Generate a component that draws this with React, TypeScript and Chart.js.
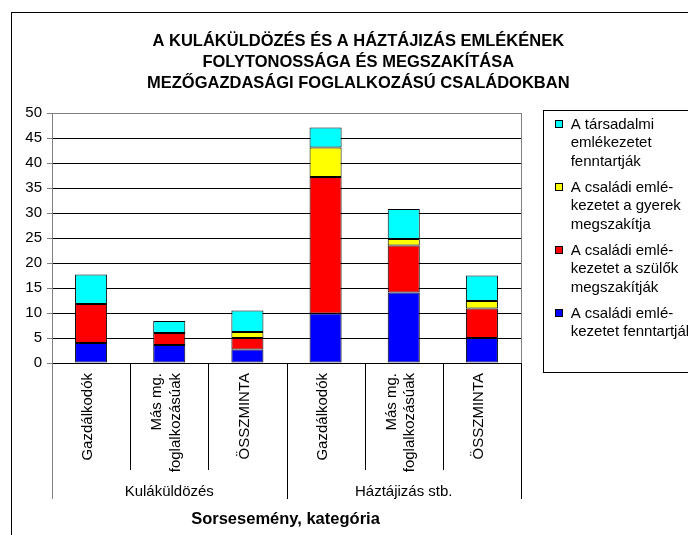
import React, { useEffect, useRef } from "react";
import { Chart, registerables } from "chart.js";

Chart.register(...registerables);

const TITLE_LINES = [
  "A KULÁKÜLDÖZÉS ÉS A HÁZTÁJIZÁS EMLÉKÉNEK",
  "FOLYTONOSSÁGA ÉS MEGSZAKÍTÁSA",
  "MEZŐGAZDASÁGI FOGLALKOZÁSÚ CSALÁDOKBAN",
];
const CATEGORIES: string[][] = [
  ["Gazdálkodók"],
  ["Más mg.", "foglalkozásúak"],
  ["ÖSSZMINTA"],
  ["Gazdálkodók"],
  ["Más mg.", "foglalkozásúak"],
  ["ÖSSZMINTA"],
];
const GROUPS = ["Kuláküldözés", "Háztájizás stb."];
const GROUP_SIZE = 3;
const X_TITLE = "Sorsesemény, kategória";

const SERIES_NAMES: string[][] = [
  ["A családi emlé-", "kezetet fenntartják"],
  ["A családi emlé-", "kezetet a szülők", "megszakítják"],
  ["A családi emlé-", "kezetet a gyerek", "megszakítja"],
  ["A társadalmi", "emlékezetet", "fenntartják"],
];
const SERIES_COLORS = ["#0000FF", "#FF0000", "#FFFF00", "#00FFFF"];

const fenntartjak = [4.0, 3.6, 2.7, 9.9, 14.1, 5.0];
const szulokMegszakitjak = [7.8, 2.4, 2.3, 27.3, 9.4, 5.9];
const gyerekMegszakitja = [0, 0, 1.2, 5.9, 1.3, 1.5];
const tarsadalmi = [5.9, 2.4, 4.3, 4.0, 6.0, 5.1];
const SERIES_VALUES = [fenntartjak, szulokMegszakitjak, gyerekMegszakitja, tarsadalmi];

const Y_MIN = 0;
const Y_MAX = 50;
const Y_STEP = 5;

const FONT = "'Liberation Sans', Arial, sans-serif";

const decorPlugin = {
  id: "decor",
  afterDraw(chart: any) {
    const ctx: CanvasRenderingContext2D = chart.ctx;
    const area = chart.chartArea;
    const xs = chart.scales.x;
    ctx.save();

    // outer frame (cut by page edges)
    ctx.strokeStyle = "#000";
    ctx.lineWidth = 1;
    ctx.strokeRect(3.5, 4.5, 800, 700);

    // title
    ctx.fillStyle = "#000";
    ctx.font = `bold 16.5px ${FONT}`;
    ctx.textAlign = "center";
    ctx.textBaseline = "alphabetic";
    const tBase = [37.7, 59, 80.3];
    TITLE_LINES.forEach((t, i) => ctx.fillText(t, 350.3, tBase[i]));

    // plot right border
    ctx.strokeStyle = "#808080";
    ctx.beginPath();
    ctx.moveTo(Math.round(area.right) + 0.5, area.top);
    ctx.lineTo(Math.round(area.right) + 0.5, area.bottom);
    ctx.stroke();

    // category separators
    const n = CATEGORIES.length;
    const step = (xs.getPixelForValue(1) - xs.getPixelForValue(0));
    for (let k = 0; k <= n; k++) {
      const x = Math.round(xs.getPixelForValue(0) - step / 2 + step * k) + 0.5;
      const isGroup = k % GROUP_SIZE === 0;
      ctx.strokeStyle = k === 0 ? "#808080" : "#000";
      ctx.beginPath();
      ctx.moveTo(x, area.bottom);
      ctx.lineTo(x, isGroup ? area.bottom + 136 : area.bottom + 107);
      ctx.stroke();
    }

    // category labels (rotated)
    ctx.fillStyle = "#000";
    ctx.font = `15px ${FONT}`;
    ctx.textAlign = "right";
    ctx.textBaseline = "middle";
    const lh = 18.3;
    CATEGORIES.forEach((lines, i) => {
      const cx = xs.getPixelForValue(i) - 3;
      lines.forEach((line, j) => {
        const off = (j - (lines.length - 1) / 2) * lh;
        ctx.save();
        ctx.translate(cx + off, area.bottom + 10);
        ctx.rotate(-Math.PI / 2);
        ctx.fillText(line, 0, 0);
        ctx.restore();
      });
    });

    // group labels
    ctx.textAlign = "center";
    GROUPS.forEach((g, gi) => {
      const a = xs.getPixelForValue(gi * GROUP_SIZE);
      const b = xs.getPixelForValue(gi * GROUP_SIZE + GROUP_SIZE - 1);
      ctx.fillText(g, (a + b) / 2, area.bottom + 129);
    });

    // axis title
    ctx.font = `bold 16.5px ${FONT}`;
    ctx.fillText(X_TITLE, (area.left + area.right) / 2 - 1, area.bottom + 156);

    // legend
    const lx = 535.5;
    const ly = 102.5;
    ctx.strokeStyle = "#000";
    ctx.strokeRect(lx, ly, 300, 262);
    ctx.font = `15px ${FONT}`;
    ctx.textAlign = "left";
    ctx.textBaseline = "middle";
    const order = [3, 2, 1, 0];
    order.forEach((si, idx) => {
      const y0 = 117 + idx * 63;
      ctx.fillStyle = SERIES_COLORS[si];
      ctx.fillRect(547.5, y0 - 4, 7, 7);
      ctx.strokeStyle = "#000";
      ctx.strokeRect(547.5, y0 - 4.5, 7, 7);
      ctx.fillStyle = "#000";
      SERIES_NAMES[si].forEach((line, j) => {
        ctx.fillText(line, 562.7, y0 + j * lh);
      });
    });

    ctx.restore();
  },
};

export default function App() {
  const ref = useRef<HTMLCanvasElement | null>(null);
  useEffect(() => {
    if (!ref.current) return;
    const chart = new Chart(ref.current, {
      type: "bar",
      data: {
        labels: CATEGORIES.map((c) => c.join(" ")),
        datasets: SERIES_VALUES.map((vals, i) => ({
          label: SERIES_NAMES[i].join(" "),
          data: vals,
          backgroundColor: SERIES_COLORS[i],
          borderColor: "#000",
          borderWidth: 1,
          borderSkipped: false,
          barPercentage: 0.41,
          categoryPercentage: 1,
        })),
      },
      options: {
        responsive: false,
        animation: false,
        devicePixelRatio: 1,
        layout: { padding: { top: 105, right: 175, left: 0, bottom: 0 } },
        plugins: {
          legend: { display: false },
          title: { display: false },
          tooltip: { enabled: false },
        },
        scales: {
          x: {
            stacked: true,
            grid: { display: false },
            border: { display: true, color: "#000", width: 1 },
            ticks: { display: false },
            afterFit: (scale: any) => {
              scale.height = 172;
            },
          },
          y: {
            stacked: true,
            min: Y_MIN,
            max: Y_MAX,
            ticks: {
              stepSize: Y_STEP,
              color: "#000",
              padding: 5,
              font: { family: FONT, size: 15 },
            },
            grid: {
              color: (c: any) => (c.tick && c.tick.value === Y_MAX ? "#808080" : "#000"),
              tickColor: "#808080",
              tickLength: 5,
            },
            border: { color: "#808080", width: 1 },
            afterFit: (scale: any) => {
              scale.width = 44;
            },
          },
        },
      },
      plugins: [decorPlugin],
    });
    return () => chart.destroy();
  }, []);
  return (
    <div style={{ width: 688, height: 527, overflow: "hidden" }}>
      <canvas ref={ref} width={688} height={527} style={{ display: "block" }} />
    </div>
  );
}
